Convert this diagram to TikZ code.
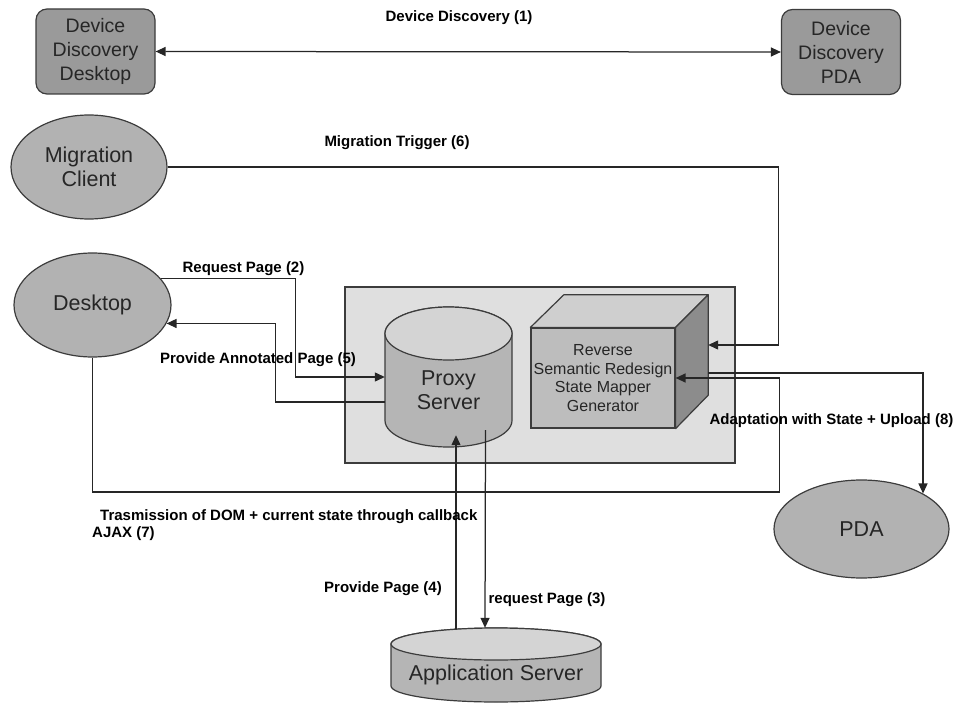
\documentclass[tikz,border=0pt]{standalone}
\usepackage{fontspec}
\setmainfont{Liberation Sans}
\usetikzlibrary{arrows.meta,calc,shapes.geometric}

\definecolor{edgegray}{HTML}{3C3C3C}
\definecolor{devgray}{HTML}{9A9A9A}
\definecolor{ovalgray}{HTML}{B2B2B2}
\definecolor{boxgray}{HTML}{DFDFDF}
\definecolor{cylbody}{HTML}{B5B5B5}
\definecolor{cyltop}{HTML}{D4D4D4}
\definecolor{cubefront}{HTML}{BDBDBD}
\definecolor{cubetop}{HTML}{CFCFCF}
\definecolor{cubeside}{HTML}{8C8C8C}

\begin{document}
\begin{tikzpicture}[x=1pt,y=-1pt,
  outline/.style={draw=edgegray, line width=1.2pt},
  conn/.style={draw=black!85, line width=1.25pt},
  tip/.style={-{Triangle[length=10pt,width=9pt]}},
  lbl/.style={font=\fontsize{15}{17}\selectfont\bfseries, inner sep=0pt},
  devbox/.style={outline, fill=devgray, rounded corners=11pt,
    minimum width=119pt, minimum height=85pt, align=center, inner sep=0pt,
    font=\fontsize{19.5}{24}\selectfont, text=black!85},
  oval/.style={ellipse, outline, fill=ovalgray, inner sep=0pt, align=center,
    font=\fontsize{21.5}{24}\selectfont, text=black!85},
  bigtext/.style={inner sep=0pt, align=center,
    font=\fontsize{21.5}{24}\selectfont, text=black!85},
  frame/.style={draw=none, inner sep=0pt},
]
\path[use as bounding box] (0,0) rectangle (955,703);

% device discovery endpoints
\node[devbox] (ddd) at (95.5,51.5) {Device\\Discovery\\Desktop};
\node[devbox] (ddp) at (841,52) {Device\\Discovery\\PDA};

% clients
\node[oval, minimum width=156pt, minimum height=104pt] (mc) at (89,167) {Migration\\Client};
\node[oval, minimum width=157pt, minimum height=104pt] (desktop) at (92.5,305) {Desktop};
\node[oval, minimum width=175pt, minimum height=98pt] (pda) at (861.5,529) {PDA};

% migration server container
\node[outline, fill=boxgray, minimum width=390pt, minimum height=176pt, inner sep=0pt] (box) at (540,375) {};

% proxy server cylinder
\node[frame, minimum width=127pt, minimum height=140pt] (proxy) at (448.5,377) {};
\path[outline, fill=cylbody] (385,333.5) -- (385,420.5)
  arc[start angle=180, end angle=360, x radius=63.5pt, y radius=26.5pt]
  -- (512,333.5)
  arc[start angle=0, end angle=180, x radius=63.5pt, y radius=26.5pt] -- cycle;
\path[outline, fill=cyltop] (448.5,333.5) ellipse[x radius=63.5pt, y radius=26.5pt];
\node[bigtext] (proxytext) at ($(proxy.center)+(0,13)$) {Proxy\\Server};

% reverse / redesign / mapper / generator block
\node[frame, minimum width=144pt, minimum height=100pt] (mapperback) at (636,345) {};
\node[outline, fill=cubefront, minimum width=144pt, minimum height=100pt, inner sep=0pt,
  align=center, font=\fontsize{16}{18.7}\selectfont, text=black!85] (mapper) at (603,378)
  {Reverse\\Semantic Redesign\\State Mapper\\Generator};
\path[outline, fill=cubetop, line join=round] (mapper.north west) -- (mapperback.north west)
  -- (mapperback.north east) -- (mapper.north east) -- cycle;
\path[outline, fill=cubeside, line join=round] (mapper.north east) -- (mapperback.north east)
  -- (mapperback.south east) -- (mapper.south east) -- cycle;

% application server cylinder
\node[frame, minimum width=210pt, minimum height=75pt] (appsrv) at (496,665.5) {};
\path[outline, fill=cylbody] (391,644) -- (391,686)
  arc[start angle=180, end angle=360, x radius=105pt, y radius=16pt]
  -- (601,644)
  arc[start angle=0, end angle=180, x radius=105pt, y radius=16pt] -- cycle;
\path[outline, fill=cyltop] (496,644) ellipse[x radius=105pt, y radius=16pt];
\node[bigtext] (apptext) at (496,675) {Application Server};

% connectors
\draw[conn, {Triangle[length=10pt,width=9pt]}-{Triangle[length=10pt,width=9pt]}]
  (ddd.east) -- (ddp.west);
\draw[conn, tip] (mc.east) -| ($(mapperback.east)+(70,0)$) -- (mapperback.east);
\draw[conn, tip] (desktop.21) -| ($(proxy.west)+(-89,0)$) -- (proxy.west);
\draw[conn, tip] ($(proxy.west)+(0,25)$) -| ($(desktop.-14)+(109,0)$) -- (desktop.-14);
\draw[conn, tip] ($(proxy.south)+(37,-17)$) -- ($(appsrv.north)+(-11,0)$);
\draw[conn, tip] ($(appsrv.north)+(-40,1)$) -- ($(proxy.south)+(7.5,-12)$);
\draw[conn, tip] (desktop.south) |- ($(mapper.east)+(104,114)$) |- (mapper.east);
\draw[conn, tip] ($(mapperback.east)+(0,28)$) -| (pda.30);

% connector labels
\node[lbl] (l1) at (459,18) {Device Discovery (1)};
\node[lbl] (l6) at (397,143) {Migration Trigger (6)};
\node[lbl] (l2) at (243.5,269) {Request Page (2)};
\node[lbl] (l5) at (258,359.5) {Provide Annotated Page (5)};
\node[lbl] (l8) at (831.5,421) {Adaptation with State + Upload (8)};
\node[lbl, anchor=north west, align=left] (l7) at (92,509.5)
  {\hspace*{8pt}Trasmission of DOM + current state through callback\\AJAX (7)};
\node[lbl] (l4) at (383,589) {Provide Page (4)};
\node[lbl] (l3) at (547,599.5) {request Page (3)};
\end{tikzpicture}
\end{document}
